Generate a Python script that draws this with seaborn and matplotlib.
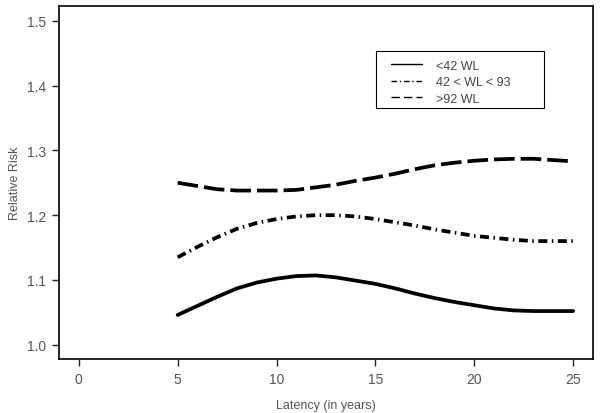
import pandas as pd
import numpy as np
import matplotlib
matplotlib.use("Agg")
import matplotlib.pyplot as plt
import seaborn as sns
from matplotlib.lines import Line2D
from matplotlib.patches import Rectangle

sns.set_style("ticks")
plt.rcParams["font.family"] = ["Liberation Sans", "DejaVu Sans"]

latency = list(range(5, 26))
low = [1.046, 1.060, 1.074, 1.087, 1.096, 1.102, 1.106, 1.107, 1.104, 1.099, 1.094,
       1.087, 1.079, 1.072, 1.066, 1.061, 1.056, 1.053, 1.052, 1.052, 1.052]
mid = [1.135, 1.151, 1.166, 1.179, 1.188, 1.194, 1.198, 1.200, 1.200, 1.198, 1.194,
       1.189, 1.184, 1.178, 1.173, 1.168, 1.165, 1.162, 1.160, 1.160, 1.160]
high = [1.250, 1.245, 1.240, 1.238, 1.238, 1.238, 1.239, 1.243, 1.247, 1.253, 1.258,
        1.264, 1.271, 1.277, 1.281, 1.284, 1.286, 1.287, 1.287, 1.285, 1.283]
groups = ["<42 WL", "42 < WL < 93", ">92 WL"]

df = pd.DataFrame({
    "Latency": latency * 3,
    "RR": low + mid + high,
    "Group": np.repeat(groups, len(latency)),
})

dash_map = {"<42 WL": "", "42 < WL < 93": (2.4, 1.2, 0.4, 1.2), ">92 WL": (5.5, 1.6)}

fig = plt.figure(figsize=(6.02, 4.14), dpi=100)
ax = fig.add_axes([0.098, 0.1304, 0.887, 0.853])
sns.lineplot(data=df, x="Latency", y="RR", style="Group", style_order=groups,
             dashes=dash_map, color="black", linewidth=2.7, legend=False, ax=ax)

ax.set_xlim(-1, 26)
ax.set_ylim(0.978, 1.523)
ax.set_xticks([0, 5, 10, 15, 20, 25])
ax.set_yticks([1.0, 1.1, 1.2, 1.3, 1.4, 1.5])
ax.set_yticklabels(["1.0", "1.1", "1.2", "1.3", "1.4", "1.5"])
ax.tick_params(direction="out", length=5, width=1, pad=4.5, colors="#222222",
               labelcolor="#555555", labelsize=10)
for s in ax.spines.values():
    s.set_linewidth(1.2)
    s.set_color("black")
ax.set_xlabel("Latency (in years)", fontsize=9, color="#555555", labelpad=9)
ax.set_ylabel("Relative Risk", fontsize=9, color="#555555", labelpad=4)

# legend: frameless entries inside a hand-drawn box (box is wider than the text)
ax.add_patch(Rectangle((0.5936, 0.711), 0.3144, 0.1615, transform=ax.transAxes,
                       fill=False, edgecolor="black", linewidth=0.8, zorder=5))
handles = [Line2D([], [], color="black", lw=1, linestyle="-"),
           Line2D([], [], color="black", lw=1, linestyle=(0, (4, 2, 1, 2))),
           Line2D([], [], color="black", lw=1, linestyle=(0, (6, 3)))]
leg = ax.legend(handles, groups, loc="upper left", bbox_to_anchor=(0.622, 0.848),
                frameon=False, fontsize=9, handlelength=2.45,
                labelspacing=0.36, borderpad=0, handletextpad=1.1,
                borderaxespad=0)
for t in leg.get_texts():
    t.set_color("#444444")

fig.savefig("out.png", dpi=100)
